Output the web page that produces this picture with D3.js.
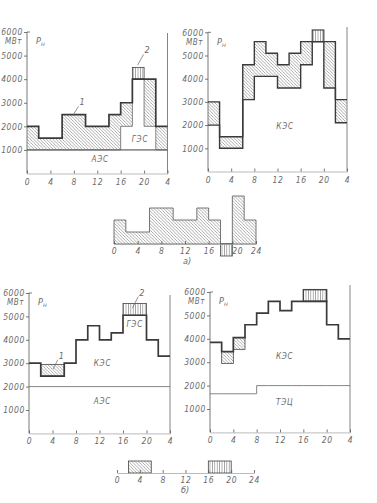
<!DOCTYPE html>
<html>
<head>
<meta charset="utf-8">
<script src="https://cdn.jsdelivr.net/npm/d3@7"></script>
<style>
  body { margin: 0; background: #fff; }
  svg text { font-family: "Liberation Sans Narrow", "DejaVu Sans Condensed", "Liberation Sans", sans-serif; font-style: italic; fill: #6a6a6a; }
  .tick text { font-size: 8.5px; letter-spacing: 0.6px; }
  .axis path, .axis line { stroke: #555; stroke-width: 0.8; }
  .xaxis path { stroke: #aaa; }
</style>
</head>
<body>
<div id="chart"></div>
<script>
// load schedules, MW, one value per 2-hour slot (0-2, 2-4, ... 22-24)
const slotStarts = d3.range(0, 24, 2);
const yTicks = [1000, 2000, 3000, 4000, 5000, 6000];
const xTicks = [0, 4, 8, 12, 16, 20, 24];
const xTickLabels = ["0", "4", "8", "12", "16", "20", "4"];
const xTickLabelsSmall = ["0", "4", "8", "12", "16", "20", "24"];

// a) left: system load, hydro (ГЭС) boundary, nuclear base
const loadA1  = [2000, 1500, 1500, 2500, 2500, 2000, 2000, 2500, 3000, 4000, 4000, 2000];
const hydroA1 = [1000, 1000, 1000, 1000, 1000, 1000, 1000, 1000, 2000, 4000, 2000, 1000];
const baseA1 = 1000;
const peakA1 = [{from: 18, to: 20, lo: 4000, hi: 4500}];

// a) right: load and КЭС curve
const loadA2 = [3000, 1500, 1500, 4600, 5600, 5100, 4600, 5100, 5600, 5600, 5600, 3100];
const kesA2  = [2000, 1000, 1000, 3100, 4100, 4100, 3600, 3600, 4600, 5600, 3600, 2100];
const peakA2 = [{from: 18, to: 20, lo: 5600, hi: 6100}];

// a) small: hatched difference per slot
const diffA = [1000, 500, 500, 1500, 1500, 1000, 1000, 1500, 1000, 0, 2000, 1000];
const deficitA = [{from: 18, to: 20, lo: -500, hi: 0}];

// б) left
const loadB1 = [3000, 2450, 2450, 3000, 4000, 4600, 4000, 4300, 5050, 5050, 4000, 3300];
const baseB1 = 2000;
const pumpB1 = [{from: 2, to: 6, lo: 2450, hi: 2950}];
const peakB1 = [{from: 16, to: 20, lo: 5050, hi: 5550}];

// б) right
const loadB2 = [3850, 3450, 4050, 4600, 5100, 5600, 5200, 5600, 5600, 5600, 4600, 4000];
const tecB2  = [1650, 1650, 1650, 1650, 2000, 2000, 2000, 2000, 2000, 2000, 2000, 2000];
const pumpB2 = [{from: 2, to: 4, lo: 2950, hi: 3450}, {from: 4, to: 6, lo: 3550, hi: 4050}];
const peakB2 = [{from: 16, to: 20, lo: 5600, hi: 6100}];

// б) small
const pumpSmallB = [{from: 2, to: 6, lo: 0, hi: 500}];
const genSmallB = [{from: 16, to: 20, lo: 0, hi: 500}];

const W = 377, H = 503;
const svg = d3.select("#chart").append("svg").attr("width", W).attr("height", H);

// hatch patterns
const defs = svg.append("defs");
defs.append("pattern").attr("id", "diag").attr("patternUnits", "userSpaceOnUse")
    .attr("width", 3.2).attr("height", 3.2)
    .append("path").attr("d", "M-1,-1 L4.2,4.2 M-1,2.2 L1,4.2 M2.2,-1 L4.2,1")
    .attr("stroke", "#777").attr("stroke-width", 0.6);
defs.append("pattern").attr("id", "vert").attr("patternUnits", "userSpaceOnUse")
    .attr("width", 2.4).attr("height", 10)
    .append("path").attr("d", "M1.2,0 L1.2,10")
    .attr("stroke", "#666").attr("stroke-width", 0.6);

function steps(vals) {
    let pts = vals.map((v, i) => [slotStarts[i], v]);
    pts.push([24, vals[vals.length - 1]]);
    return pts;
}

function makePanel(p) {
    const x = d3.scaleLinear().domain([0, 24]).range([p.x0, p.x1]);
    const y = d3.scaleLinear().domain([0, 6000]).range([p.y0, p.yTop]);
    const g = svg.append("g");

    // x axis
    g.append("g").attr("class", "axis xaxis")
        .attr("transform", `translate(0, ${p.y0})`)
        .call(d3.axisBottom(x).tickValues(xTicks).tickSizeInner(-3).tickSizeOuter(0).tickPadding(5)
            .tickFormat((d, i) => xTickLabels[i]))
        .call(a => a.selectAll(".tick line").attr("stroke", "#777"));

    // y axis
    g.append("g").attr("class", "axis")
        .attr("transform", `translate(${p.x0}, 0)`)
        .call(d3.axisLeft(y).tickValues(yTicks).tickSize(3).tickSizeOuter(0).tickPadding(1)
            .tickFormat(d3.format("d")))
        .call(a => a.select(".domain").attr("d", `M0,${p.y0}V${p.yTop}h3`));

    // right border at 24 h
    g.append("line").attr("x1", x(24)).attr("x2", x(24))
        .attr("y1", p.rightTop).attr("y2", p.y0)
        .attr("stroke", "#666").attr("stroke-width", 0.8);

    g.append("text").attr("x", p.x0 - 22).attr("y", y(5600) + 3)
        .attr("font-size", 8).attr("letter-spacing", 0.6).text("МВт");
    const pl = g.append("text").attr("x", p.x0 + 9).attr("y", y(5600) + 3).attr("font-size", 9);
    pl.append("tspan").text("P");
    pl.append("tspan").attr("font-size", 6.5).attr("dy", 2).text("н");

    return {g, x, y};
}

const areaOf = (x, y) => d3.area().curve(d3.curveStepAfter)
    .x(d => x(d[0])).y0(d => y(d[1])).y1(d => y(d[2]));
const lineOf = (x, y) => d3.line().curve(d3.curveStepAfter)
    .x(d => x(d[0])).y(d => y(d[1]));

function boxes(P, list, fill, sw) {
    P.g.selectAll(null).data(list).enter().append("rect")
        .attr("x", d => P.x(d.from)).attr("width", d => P.x(d.to) - P.x(d.from))
        .attr("y", d => P.y(d.hi)).attr("height", d => P.y(d.lo) - P.y(d.hi))
        .attr("fill", fill).attr("stroke", "#444").attr("stroke-width", sw);
}

function hline(P, v, col) {
    P.g.append("line").attr("x1", P.x(0)).attr("x2", P.x(24))
        .attr("y1", P.y(v)).attr("y2", P.y(v))
        .attr("stroke", col || "#666").attr("stroke-width", 0.8);
}

function label(P, txt, hx, v, size) {
    P.g.append("text").attr("x", P.x(hx)).attr("y", P.y(v))
        .attr("text-anchor", "middle").attr("font-size", size || 8)
        .attr("letter-spacing", 0.8).text(txt);
}

function leader(P, txt, h1, v1, h2, v2) {
    P.g.append("line").attr("x1", P.x(h1)).attr("y1", P.y(v1))
        .attr("x2", P.x(h2)).attr("y2", P.y(v2))
        .attr("stroke", "#666").attr("stroke-width", 0.7);
    P.g.append("text").attr("x", P.x(h2) + 1).attr("y", P.y(v2) - 1)
        .attr("font-size", 9).text(txt);
}

// ---- a) left ----
const A1 = makePanel({x0: 27, x1: 167.5, y0: 173.5, yTop: 32, rightTop: 33});
A1.g.append("path").datum(steps(hydroA1).map((d, i) => [d[0], d[1], steps(loadA1)[i][1]]))
    .attr("d", areaOf(A1.x, A1.y)).attr("fill", "url(#diag)").attr("stroke", "none");
A1.g.append("path").datum(steps(hydroA1).map(d => [d[0], baseA1, d[1]]))
    .attr("d", areaOf(A1.x, A1.y)).attr("fill", "none").attr("stroke", "#666").attr("stroke-width", 0.8);
hline(A1, baseA1);
boxes(A1, peakA1, "url(#vert)", 0.8);
A1.g.append("path").datum(steps(loadA1)).attr("d", lineOf(A1.x, A1.y))
    .attr("fill", "none").attr("stroke", "#3a3a3a").attr("stroke-width", 1.7);
label(A1, "АЭС", 12.5, 470);
label(A1, "ГЭС", 19.3, 1350);
leader(A1, "1", 7.8, 2450, 8.8, 2850);
leader(A1, "2", 18.9, 4600, 19.9, 5050);

// ---- a) right ----
const A2 = makePanel({x0: 208, x1: 347, y0: 171.5, yTop: 32.3, rightTop: 27});
A2.g.append("path").datum(steps(kesA2).map((d, i) => [d[0], d[1], steps(loadA2)[i][1]]))
    .attr("d", areaOf(A2.x, A2.y)).attr("fill", "url(#diag)").attr("stroke", "none");
boxes(A2, peakA2, "url(#vert)", 1.2);
[loadA2, kesA2].forEach(s => A2.g.append("path").datum(steps(s)).attr("d", lineOf(A2.x, A2.y))
    .attr("fill", "none").attr("stroke", "#3a3a3a").attr("stroke-width", 1.4));
label(A2, "КЭС", 13.3, 1850);

// ---- a) small ----
{
    const x = d3.scaleLinear().domain([0, 24]).range([114, 256]);
    const y = d3.scaleLinear().domain([0, 1000]).range([244, 220]);
    const g = svg.append("g");
    g.append("path").datum(steps(diffA).map(d => [d[0], 0, d[1]]))
        .attr("d", areaOf(x, y)).attr("fill", "url(#diag)").attr("stroke", "#555").attr("stroke-width", 0.8);
    boxes({g, x, y}, deficitA, "url(#vert)", 0.8);
    g.append("g").attr("class", "axis xaxis").attr("transform", "translate(0,244)")
        .call(d3.axisBottom(x).tickValues(xTicks).tickSizeInner(-3).tickSizeOuter(0).tickPadding(4)
            .tickFormat((d, i) => xTickLabelsSmall[i]))
        .call(a => a.select(".domain").attr("stroke", "#555"))
        .call(a => a.selectAll(".tick text").filter(d => d === 20).attr("dx", 5));
    g.append("text").attr("x", 187).attr("y", 264).attr("text-anchor", "middle")
        .attr("font-size", 9).text("а)");
}

// ---- б) left ----
const B1 = makePanel({x0: 29, x1: 170, y0: 433.4, yTop: 293, rightTop: 295});
hline(B1, baseB1);
boxes(B1, pumpB1, "url(#diag)", 0.8);
boxes(B1, peakB1, "url(#vert)", 0.8);
B1.g.append("path").datum(steps(loadB1)).attr("d", lineOf(B1.x, B1.y))
    .attr("fill", "none").attr("stroke", "#3a3a3a").attr("stroke-width", 1.7);
label(B1, "КЭС", 12.5, 2900);
label(B1, "АЭС", 12.5, 1250);
label(B1, "ГЭС", 18, 4550);
leader(B1, "1", 4.1, 2750, 4.9, 3150);
leader(B1, "2", 17.6, 5350, 18.6, 5850);

// ---- б) right ----
const B2 = makePanel({x0: 210, x1: 350, y0: 432.4, yTop: 292, rightTop: 285});
B2.g.append("path").datum(steps(tecB2)).attr("d", lineOf(B2.x, B2.y))
    .attr("fill", "none").attr("stroke", "#666").attr("stroke-width", 0.8);
boxes(B2, pumpB2, "url(#diag)", 0.8);
boxes(B2, peakB2, "url(#vert)", 1.4);
B2.g.append("path").datum(steps(loadB2)).attr("d", lineOf(B2.x, B2.y))
    .attr("fill", "none").attr("stroke", "#3a3a3a").attr("stroke-width", 1.7);
label(B2, "КЭС", 12.8, 3150);
label(B2, "ТЭЦ", 12.8, 1150);

// ---- б) small ----
{
    const x = d3.scaleLinear().domain([0, 24]).range([117, 254]);
    const y = d3.scaleLinear().domain([0, 1000]).range([473, 449]);
    const g = svg.append("g");
    boxes({g, x, y}, pumpSmallB, "url(#diag)", 0.8);
    boxes({g, x, y}, genSmallB, "url(#vert)", 0.8);
    g.append("g").attr("class", "axis xaxis").attr("transform", "translate(0,473)")
        .call(d3.axisBottom(x).tickValues(xTicks).tickSizeInner(-3).tickSizeOuter(0).tickPadding(4)
            .tickFormat((d, i) => xTickLabelsSmall[i]))
        .call(a => a.select(".domain").attr("stroke", "#555"));
    g.append("text").attr("x", 185).attr("y", 493).attr("text-anchor", "middle")
        .attr("font-size", 9).text("б)");
}
</script>
</body>
</html>
